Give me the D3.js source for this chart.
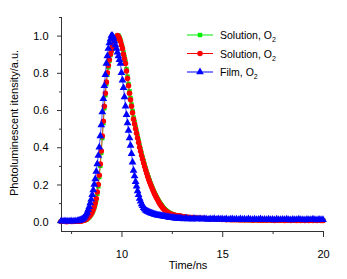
<!DOCTYPE html>
<html>
<head>
<meta charset="utf-8">
<script src="https://cdn.jsdelivr.net/npm/d3@7"></script>
<style>
  body { margin: 0; background: #fff; }
  svg { display: block; font-family: "Liberation Sans", Arial, sans-serif; }
</style>
</head>
<body>
<svg id="chart" width="347" height="279"></svg>
<script>
// sample times (ns)
var times = [
  7.0, 7.1, 7.2, 7.3, 7.4, 7.5, 7.6, 7.7,
  7.8, 7.85, 7.9, 7.95, 8.0, 8.05, 8.1, 8.15, 8.2, 8.25,
  8.3, 8.35, 8.4, 8.45, 8.5, 8.55, 8.6, 8.65, 8.7, 8.75,
  8.8, 8.85, 8.9, 8.95, 9.0, 9.05, 9.1, 9.15, 9.2, 9.25,
  9.3, 9.35, 9.4, 9.45, 9.5, 9.55, 9.6, 9.65, 9.7, 9.75,
  9.8, 9.85, 9.9, 9.95, 10.0, 10.05, 10.1, 10.15, 10.2, 10.25,
  10.3, 10.35, 10.4, 10.45, 10.5, 10.55, 10.6, 10.65, 10.7, 10.75,
  10.8, 10.85, 10.9, 10.95, 11.0, 11.05, 11.1, 11.15, 11.2, 11.25,
  11.3, 11.35, 11.4, 11.45, 11.5, 11.55, 11.6, 11.65, 11.7, 11.75,
  11.8, 11.85, 11.9, 11.95, 12.0, 12.05, 12.1, 12.15, 12.2, 12.25,
  12.3, 12.35, 12.4, 12.45, 12.5, 12.55, 12.6, 12.65, 12.7, 12.75,
  12.8, 12.85, 12.9, 12.95,
  13.0, 13.1, 13.2, 13.3, 13.4, 13.5, 13.6, 13.7, 13.8, 13.9,
  14.0, 14.1, 14.2, 14.3, 14.4, 14.5, 14.6, 14.7, 14.8, 14.9,
  15.0, 15.1, 15.2, 15.3, 15.4, 15.5, 15.6, 15.7, 15.8, 15.9,
  16.0, 16.1, 16.2, 16.3, 16.4, 16.5, 16.6, 16.7, 16.8, 16.9,
  17.0, 17.1, 17.2, 17.3, 17.4, 17.5, 17.6, 17.7, 17.8, 17.9,
  18.0, 18.1, 18.2, 18.3, 18.4, 18.5, 18.6, 18.7, 18.8, 18.9,
  19.0, 19.1, 19.2, 19.3, 19.4, 19.5, 19.6, 19.7, 19.8, 19.9,
  20.0
];

var solutionGreen = [
  0.001, 0.002, 0.001, 0.000, 0.002, 0.001, 0.001, 0.002,
  0.002, 0.002, 0.003, 0.003, 0.004, 0.005, 0.006, 0.007, 0.009, 0.012,
  0.015, 0.020, 0.025, 0.032, 0.040, 0.048, 0.060, 0.074, 0.093, 0.117,
  0.15, 0.19, 0.24, 0.30, 0.37, 0.45, 0.53, 0.61, 0.68, 0.74,
  0.79, 0.83, 0.865, 0.895, 0.915, 0.935, 0.95, 0.96, 0.975, 0.99,
  1.0, 1.0, 0.99, 0.975, 0.955, 0.935, 0.91, 0.885, 0.86, 0.82,
  0.78, 0.74, 0.70, 0.665, 0.63, 0.595, 0.56, 0.535, 0.51, 0.485,
  0.46, 0.435, 0.41, 0.388, 0.366, 0.345, 0.325, 0.306, 0.287, 0.269,
  0.252, 0.236, 0.221, 0.206, 0.192, 0.179, 0.166, 0.154, 0.143, 0.132,
  0.122, 0.112, 0.103, 0.095, 0.087, 0.080, 0.073, 0.067, 0.062, 0.057,
  0.053, 0.049, 0.046, 0.043, 0.041, 0.039, 0.037, 0.035, 0.034, 0.033,
  0.032, 0.031, 0.030, 0.030,
  0.029, 0.027, 0.026, 0.024, 0.023, 0.022, 0.021, 0.020, 0.020, 0.019,
  0.018, 0.018, 0.017, 0.016, 0.016, 0.015, 0.014, 0.014, 0.013, 0.013,
  0.012, 0.012, 0.012, 0.011, 0.011, 0.010, 0.011, 0.010, 0.010, 0.010,
  0.010, 0.009, 0.010, 0.009, 0.009, 0.009, 0.009, 0.009, 0.008, 0.009,
  0.008, 0.008, 0.008, 0.009, 0.008, 0.008, 0.008, 0.008, 0.008, 0.008,
  0.008, 0.007, 0.008, 0.008, 0.007, 0.008, 0.007, 0.007, 0.008, 0.007,
  0.007, 0.007, 0.007, 0.007, 0.007, 0.007, 0.007, 0.006, 0.007, 0.007,
  0.007
];

var solutionRed = [
  0.001, 0.002, 0.001, 0.000, 0.002, 0.001, 0.001, 0.002,
  0.002, 0.002, 0.003, 0.003, 0.004, 0.005, 0.006, 0.008, 0.010, 0.013,
  0.017, 0.022, 0.028, 0.035, 0.043, 0.052, 0.065, 0.08, 0.10, 0.125,
  0.16, 0.20, 0.25, 0.31, 0.38, 0.46, 0.54, 0.62, 0.69, 0.75,
  0.80, 0.84, 0.87, 0.90, 0.92, 0.94, 0.95, 0.965, 0.98, 0.99,
  1.0, 0.995, 0.985, 0.97, 0.95, 0.93, 0.90, 0.875, 0.85, 0.81,
  0.77, 0.73, 0.69, 0.655, 0.62, 0.585, 0.55, 0.525, 0.50, 0.475,
  0.45, 0.425, 0.40, 0.378, 0.356, 0.335, 0.315, 0.296, 0.278, 0.26,
  0.243, 0.227, 0.212, 0.198, 0.185, 0.172, 0.16, 0.148, 0.137, 0.126,
  0.116, 0.106, 0.097, 0.089, 0.081, 0.074, 0.068, 0.062, 0.057, 0.053,
  0.049, 0.046, 0.043, 0.041, 0.039, 0.037, 0.035, 0.034, 0.033, 0.032,
  0.031, 0.03, 0.03, 0.029,
  0.028, 0.027, 0.025, 0.024, 0.023, 0.022, 0.021, 0.020, 0.019, 0.019,
  0.018, 0.017, 0.017, 0.016, 0.015, 0.015, 0.014, 0.014, 0.013, 0.013,
  0.012, 0.013, 0.011, 0.012, 0.011, 0.010, 0.011, 0.010, 0.011, 0.009,
  0.010, 0.009, 0.010, 0.009, 0.010, 0.008, 0.009, 0.010, 0.008, 0.009,
  0.008, 0.009, 0.008, 0.010, 0.008, 0.009, 0.007, 0.009, 0.008, 0.008,
  0.009, 0.007, 0.008, 0.009, 0.007, 0.008, 0.008, 0.007, 0.009, 0.007,
  0.008, 0.007, 0.008, 0.007, 0.008, 0.007, 0.008, 0.006, 0.008, 0.007,
  0.007
];

var filmBlue = [
  0.003, 0.002, 0.004, 0.003, 0.002, 0.004, 0.003, 0.004,
  0.004, 0.005, 0.006, 0.008, 0.010, 0.013, 0.017, 0.022, 0.03, 0.04,
  0.05, 0.065, 0.08, 0.10, 0.12, 0.145, 0.17, 0.20, 0.23, 0.27,
  0.31, 0.355, 0.40, 0.46, 0.52, 0.59, 0.66, 0.73, 0.79, 0.85,
  0.89, 0.93, 0.96, 0.98, 1.0, 1.0, 0.99, 0.97, 0.95, 0.93,
  0.91, 0.89, 0.87, 0.85, 0.80, 0.76, 0.72, 0.67, 0.62, 0.575,
  0.53, 0.49, 0.45, 0.41, 0.365, 0.32, 0.275, 0.245, 0.215, 0.19,
  0.165, 0.145, 0.125, 0.11, 0.095, 0.085, 0.075, 0.068, 0.062, 0.058,
  0.055, 0.052, 0.05, 0.047, 0.045, 0.043, 0.041, 0.039, 0.038, 0.036,
  0.035, 0.034, 0.033, 0.032, 0.031, 0.030, 0.029, 0.028, 0.027, 0.026,
  0.025, 0.024, 0.023, 0.022, 0.022, 0.021, 0.020, 0.020, 0.019, 0.019,
  0.018, 0.018, 0.017, 0.017,
  0.017, 0.014, 0.018, 0.015, 0.016, 0.013, 0.017, 0.015, 0.014, 0.016,
  0.013, 0.016, 0.014, 0.012, 0.015, 0.013, 0.016, 0.012, 0.014, 0.013,
  0.015, 0.012, 0.014, 0.011, 0.013, 0.015, 0.012, 0.013, 0.011, 0.014,
  0.012, 0.013, 0.010, 0.014, 0.012, 0.011, 0.013, 0.010, 0.012, 0.014,
  0.011, 0.012, 0.010, 0.013, 0.011, 0.012, 0.009, 0.013, 0.011, 0.010,
  0.012, 0.010, 0.013, 0.011, 0.009, 0.012, 0.010, 0.011, 0.013, 0.010,
  0.011, 0.009, 0.012, 0.010, 0.011, 0.013, 0.010, 0.009, 0.012, 0.010,
  0.011
];

var xTicks = [10, 15, 20];
var xMinorTicks = [7.5, 12.5, 17.5];
var yTicks = [0.0, 0.2, 0.4, 0.6, 0.8, 1.0];
var yMinorTicks = [0.1, 0.3, 0.5, 0.7, 0.9, 1.1];

var series = [
  { name: "Solution, O", values: solutionGreen, color: "#00ee00", symbol: d3.symbolSquare, size: 20 },
  { name: "Solution, O", values: solutionRed, color: "#ff0000", symbol: d3.symbolCircle, size: 24 },
  { name: "Film, O", values: filmBlue, color: "#0000ff", symbol: d3.symbolTriangle, size: 26 }
];

var svg = d3.select("#chart");
var plotLeft = 61, plotRight = 323, plotTop = 17, plotBottom = 231;

var x = d3.scaleLinear().domain([7, 20]).range([plotLeft, plotRight]);
var y = d3.scaleLinear().domain([-0.05, 1.1]).range([plotBottom, plotTop]);

// axes
var xAxis = svg.append("g").attr("transform", "translate(0," + plotBottom + ")")
  .call(d3.axisBottom(x).tickValues(xTicks).tickSize(6).tickFormat(d3.format("d")));
xAxis.append("g").call(d3.axisBottom(x).tickValues(xMinorTicks).tickSize(3).tickFormat(""))
  .select(".domain").remove();
var yAxis = svg.append("g").attr("transform", "translate(" + plotLeft + ",0)")
  .call(d3.axisLeft(y).tickValues(yTicks).tickSize(4).tickFormat(d3.format(".1f")));
yAxis.append("g").call(d3.axisLeft(y).tickValues(yMinorTicks).tickSize(2).tickFormat(""))
  .select(".domain").remove();

svg.selectAll(".domain").attr("stroke", "#333");
xAxis.select(".domain").attr("d", "M" + plotLeft + ",0.5H" + (plotRight + 0.5));
yAxis.select(".domain").attr("d", "M0.5," + plotTop + "V" + plotBottom);
svg.selectAll(".tick line").attr("stroke", "#333");
svg.selectAll(".tick text").attr("font-size", 11).attr("fill", "#000")
  .attr("font-family", "Liberation Sans, Arial, sans-serif");
xAxis.selectAll(".tick text").attr("dy", "1.6em");
yAxis.selectAll(".tick text").attr("dx", "-0.5em");

// data
var line = d3.line().x(d => x(d[0])).y(d => y(d[1]));
series.forEach(function(s) {
  var pts = times.map((t, i) => [t, s.values[i]]);
  var g = svg.append("g");
  g.append("path").datum(pts).attr("d", line)
    .attr("fill", "none").attr("stroke", s.color).attr("stroke-width", 1).attr("opacity", 0.7);
  g.selectAll("path.m").data(pts).enter().append("path").attr("class", "m")
    .attr("transform", d => "translate(" + x(d[0]) + "," + y(d[1]) + ")")
    .attr("d", d3.symbol().type(s.symbol).size(s.size))
    .attr("fill", s.color);
});

// legend
var legend = svg.append("g");
series.forEach(function(s, i) {
  var ly = 35 + i * 18.5;
  legend.append("line").attr("x1", 187).attr("x2", 213).attr("y1", ly).attr("y2", ly)
    .attr("stroke", s.color).attr("stroke-width", 1);
  legend.append("path").attr("transform", "translate(200," + ly + ")")
    .attr("d", d3.symbol().type(s.symbol).size(s.size)).attr("fill", s.color);
  var t = legend.append("text").attr("x", 220).attr("y", ly + 4)
    .attr("font-size", 10.5).attr("fill", "#000").text(s.name);
  t.append("tspan").attr("font-size", 7).attr("dy", 3).text("2");
});

// axis titles
svg.append("text").attr("x", 188).attr("y", 269).attr("text-anchor", "middle")
  .attr("font-size", 11).text("Time/ns");
svg.append("text").attr("transform", "translate(18,123) rotate(-90)")
  .attr("text-anchor", "middle").attr("font-size", 11)
  .text("Photoluminescent itensity/a.u.");
</script>
</body>
</html>
